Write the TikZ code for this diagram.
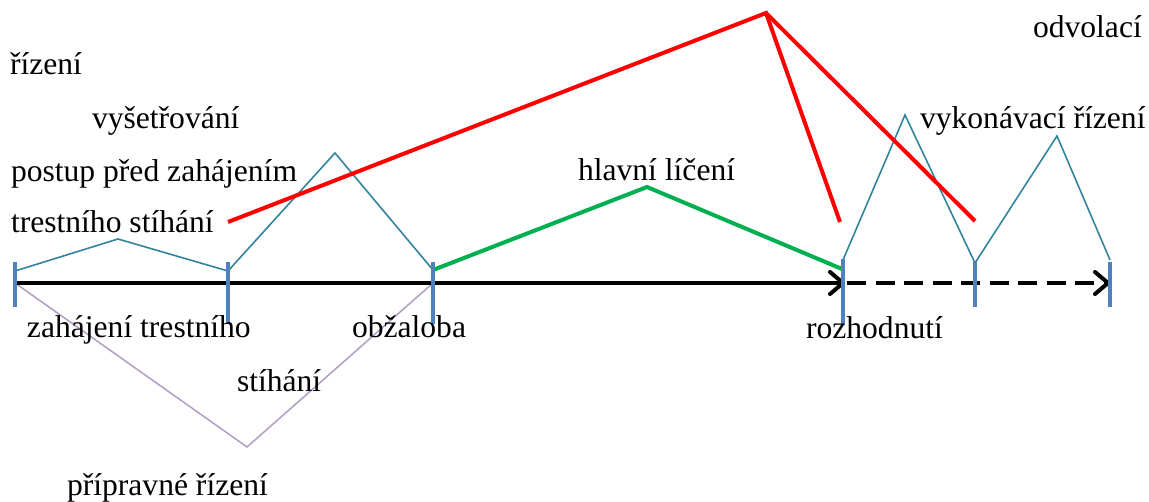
\documentclass[tikz,border=0pt]{standalone}
\usepackage{fontspec}
\setmainfont{Liberation Serif}
\usetikzlibrary{arrows.meta}
\definecolor{tealline}{HTML}{31849B}
\definecolor{tickblue}{HTML}{4F81BD}
\definecolor{redline}{HTML}{FF0000}
\definecolor{greenline}{HTML}{00B050}
\definecolor{lavline}{HTML}{B3A2C7}
\tikzset{
  lbl/.style={anchor=base west, inner sep=0pt, outer sep=0pt, font=\fontsize{31.6}{36}\selectfont},
  tickmark/.style={draw=tickblue, line width=4pt},
  phase/.style={draw=tealline, line width=1.6pt, line join=miter},
  redphase/.style={draw=redline, line width=4pt},
  greenphase/.style={draw=greenline, line width=4pt},
  lavphase/.style={draw=lavline, line width=1.6pt},
  axis/.style={draw=black, line width=4pt, -{Straight Barb[length=13pt,width=22pt,line width=4pt,round]}},
  axisdash/.style={axis, dash pattern=on 19pt off 9.5pt}
}
\begin{document}
\begin{tikzpicture}[x=1pt,y=-1pt]
\useasboundingbox (0,0) rectangle (1149,502);
% ticks
\coordinate (t1a) at (15,262);  \coordinate (t1b) at (15,307);
\coordinate (t2a) at (228,262); \coordinate (t2b) at (228,324);
\coordinate (t3a) at (433,262); \coordinate (t3b) at (433,324);
\coordinate (t4a) at (843,259); \coordinate (t4b) at (843,325);
\coordinate (t5a) at (975,262); \coordinate (t5b) at (975,307);
\coordinate (t6a) at (1110,262); \coordinate (t6b) at (1110,307);
% axis points
\coordinate (a0) at (15,283);
\coordinate (a1) at (845,283);
\coordinate (a2) at (847,283);
\coordinate (a3) at (1110,283);
% phase points
\coordinate (p1) at (15,271);
\coordinate (p1top) at (118,239);
\coordinate (p2) at (228,271);
\coordinate (p2top) at (335,153);
\coordinate (p3) at (433,270);
\coordinate (g3) at (433,270);
\coordinate (gtop) at (647,187);
\coordinate (g4) at (842,269);
\coordinate (p4) at (843,260);
\coordinate (p4top) at (905,115);
\coordinate (p5) at (975,263);
\coordinate (p5top) at (1057,136);
\coordinate (p6) at (1110,260);
% red
\coordinate (r0) at (228,222);
\coordinate (rtop) at (766,13);
\coordinate (r1) at (840,222);
\coordinate (r2) at (975,221);
% lavender
\coordinate (l0) at (15,283);
\coordinate (lbot) at (247,447);
\coordinate (l1) at (433,283);

\draw[lavphase] (l0) -- (lbot) -- (l1);
\draw[phase] (p1) -- (p1top) -- (p2) -- (p2top) -- (p3);
\draw[phase] (p4) -- (p4top) -- (p5) -- (p5top) -- (p6);
\draw[greenphase] (g3) -- (gtop) -- (g4);
\draw[redphase] (r0) -- (rtop) -- (r1);
\draw[redphase] (rtop) -- (r2);

\draw[axis] (a0) -- (a1);
\draw[axisdash] (a2) -- (a3);

\foreach \i in {1,...,6} { \draw[tickmark] (t\i a) -- (t\i b); }

% labels
\node[lbl] (odv) at (1033,38) {odvolací};
\node[lbl] (riz) at (10,75) {řízení};
\node[lbl] (vys) at (92,129) {vyšetřování};
\node[lbl] (vyk) at (920,129) {vykonávací řízení};
\node[lbl] (pos) at (11,182) {postup před zahájením};
\node[lbl] (hla) at (578,181) {hlavní líčení};
\node[lbl] (tre) at (11,233) {trestního stíhání};
\node[lbl] (zah) at (27,338) {zahájení trestního};
\node[lbl] (obz) at (352,338) {obžaloba};
\node[lbl] (roz) at (806,339) {rozhodnutí};
\node[lbl] (sti) at (237,392) {stíhání};
\node[lbl] (pri) at (67,495) {přípravné řízení};
\end{tikzpicture}
\end{document}
